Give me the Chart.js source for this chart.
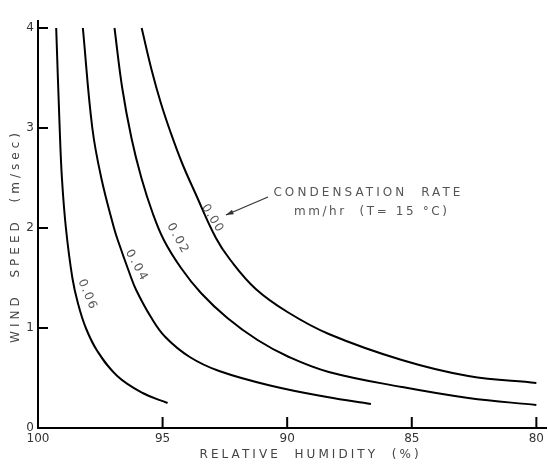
<!DOCTYPE html>
<html><head><meta charset="utf-8">
<script src="https://cdn.jsdelivr.net/npm/chart.js@4.4.1/dist/chart.umd.min.js"></script>
<style>html,body{margin:0;padding:0;background:#fff}#wrap{width:548px;height:464px;position:relative}</style>
</head><body><div id="wrap"><canvas id="c"></canvas></div>
<script>
// Condensation-rate curves (mm/hr): relative humidity (%) vs wind speed (m/sec)
const rateLabels = ['0.00', '0.02', '0.04', '0.06'];

const rh000 = [95.84, 95.44, 95.07, 94.67, 94.22, 93.69, 92.86, 92.28, 91.26, 89.99, 88.33, 85.4, 82.73, 80.0];
const ws000 = [4.0, 3.58, 3.25, 2.95, 2.65, 2.35, 1.90, 1.68, 1.39, 1.16, 0.94, 0.68, 0.52, 0.45];

const rh002 = [96.93, 96.62, 96.25, 95.85, 95.4, 94.95, 94.26, 93.46, 92.4, 91.19, 89.93, 88.33, 85.4, 82.73, 80.0];
const ws002 = [4.0, 3.4, 2.9, 2.5, 2.15, 1.88, 1.6, 1.35, 1.1, 0.88, 0.71, 0.56, 0.41, 0.30, 0.23];

const rh004 = [98.2, 97.82, 97.46, 96.95, 96.8, 96.33, 96.06, 95.47, 94.89, 93.91, 92.73, 90.6, 88.4, 86.64];
const ws004 = [4.0, 3.0, 2.5, 2.0, 1.88, 1.55, 1.38, 1.11, 0.91, 0.71, 0.57, 0.42, 0.31, 0.24];

const rh006 = [99.27, 99.13, 99.04, 98.88, 98.62, 98.4, 98.08, 97.62, 96.82, 95.8, 94.8];
const ws006 = [4.0, 3.0, 2.5, 2.0, 1.5, 1.25, 1.0, 0.77, 0.52, 0.35, 0.25];

const xTicks = [100, 95, 90, 85, 80];
const yTicks = [0, 1, 2, 3, 4];
const xTitle = 'RELATIVE  HUMIDITY  (%)';
const yTitle = 'WIND  SPEED  (m/sec)';
const noteLines = ['CONDENSATION  RATE', 'mm/hr  (T= 15 °C)'];

const series = [[rh000, ws000], [rh002, ws002], [rh004, ws004], [rh006, ws006]];
const FONT = '"DejaVu Sans", "Noto Sans", sans-serif';

function pts(rh, ws) { return rh.map((x, i) => ({ x: x, y: ws[i] })); }

function spaced(ctx, text, x, y, target) {
  ctx.letterSpacing = '0px';
  const w = ctx.measureText(text).width;
  const sp = Math.max(0, (target - w) / Math.max(1, text.length - 1));
  ctx.letterSpacing = sp.toFixed(2) + 'px';
  ctx.fillText(text, x + sp / 2, y);
  ctx.letterSpacing = '0px';
}

const decor = {
  id: 'decor',
  afterDatasetsDraw(chart, args, opts) {
    const ctx = chart.ctx, a = chart.chartArea, xs = chart.scales.x, ys = chart.scales.y;
    ctx.save();
    // inward tick marks
    ctx.strokeStyle = '#000';
    ctx.lineWidth = 2;
    xTicks.forEach(v => {
      if (v === 100) return;
      const px = xs.getPixelForValue(v);
      ctx.beginPath(); ctx.moveTo(px, a.bottom); ctx.lineTo(px, a.bottom - 11); ctx.stroke();
    });
    yTicks.forEach(v => {
      if (v === 0) return;
      const py = ys.getPixelForValue(v);
      ctx.beginPath(); ctx.moveTo(a.left, py); ctx.lineTo(a.left + 10, py); ctx.stroke();
    });

    // curve labels
    ctx.fillStyle = '#555';
    ctx.font = '12px ' + FONT;
    ctx.textAlign = 'center';
    ctx.textBaseline = 'middle';
    opts.labels.forEach((l, i) => {
      const px = xs.getPixelForValue(l.rh), py = ys.getPixelForValue(l.ws);
      ctx.save();
      ctx.translate(px, py);
      ctx.rotate(l.ang * Math.PI / 180);
      spaced(ctx, rateLabels[i], 0, 0, l.len);
      ctx.restore();
    });

    // annotation
    ctx.font = '12px ' + FONT;
    ctx.fillStyle = '#555';
    opts.note.forEach(n => {
      spaced(ctx, noteLines[n.line], xs.getPixelForValue(n.rh), ys.getPixelForValue(n.ws), n.len);
    });
    const ax0 = xs.getPixelForValue(opts.arrow.from[0]), ay0 = ys.getPixelForValue(opts.arrow.from[1]);
    const ax1 = xs.getPixelForValue(opts.arrow.to[0]), ay1 = ys.getPixelForValue(opts.arrow.to[1]);
    ctx.strokeStyle = '#333'; ctx.lineWidth = 1.2;
    ctx.beginPath(); ctx.moveTo(ax0, ay0); ctx.lineTo(ax1, ay1); ctx.stroke();
    const ang = Math.atan2(ay1 - ay0, ax1 - ax0);
    ctx.fillStyle = '#333';
    ctx.beginPath();
    ctx.moveTo(ax1, ay1);
    ctx.lineTo(ax1 - 8 * Math.cos(ang - 0.3), ay1 - 8 * Math.sin(ang - 0.3));
    ctx.lineTo(ax1 - 8 * Math.cos(ang + 0.3), ay1 - 8 * Math.sin(ang + 0.3));
    ctx.closePath(); ctx.fill();

    // axis titles
    ctx.fillStyle = '#444';
    ctx.font = '12px ' + FONT;
    spaced(ctx, xTitle, xs.getPixelForValue(opts.xTitleAt), a.bottom + 27, 219);
    ctx.save();
    ctx.translate(a.left - 22, ys.getPixelForValue(opts.yTitleAt));
    ctx.rotate(-Math.PI / 2);
    spaced(ctx, yTitle, 0, 0, 210);
    ctx.restore();

    ctx.restore();
  }
};

new Chart(document.getElementById('c'), {
  type: 'scatter',
  data: {
    datasets: series.map((s, i) => ({
      label: rateLabels[i],
      data: pts(s[0], s[1]),
      showLine: true,
      borderColor: '#000',
      borderWidth: 2,
      pointRadius: 0,
      tension: 0.4,
      fill: false
    }))
  },
  options: {
    responsive: true,
    maintainAspectRatio: false,
    animation: false,
    layout: { padding: { top: 21, right: 0, left: 0, bottom: 0 } },
    plugins: {
      legend: { display: false },
      tooltip: { enabled: false },
      decor: {
        labels: [
          { rh: 93.01, ws: 2.10, ang: 58, len: 30 },
          { rh: 94.40, ws: 1.90, ang: 61, len: 32 },
          { rh: 96.06, ws: 1.63, ang: 61, len: 33 },
          { rh: 98.03, ws: 1.34, ang: 67, len: 31 }
        ],
        note: [
          { line: 0, rh: 86.8, ws: 2.35, len: 187 },
          { line: 1, rh: 86.66, ws: 2.165, len: 153 }
        ],
        arrow: { from: [90.77, 2.31], to: [92.46, 2.13] },
        xTitleAt: 89.12,
        yTitleAt: 1.9
      }
    },
    scales: {
      x: {
        type: 'linear',
        reverse: true,
        min: 79.6,
        max: 100,
        afterBuildTicks: s => { s.ticks = xTicks.map(v => ({ value: v })); },
        afterFit: s => { s.height = 36; },
        grid: { display: false, drawTicks: false },
        border: { display: true, color: '#000', width: 2 },
        ticks: { color: '#333', font: { family: FONT, size: 12 }, padding: 4, maxRotation: 0, autoSkip: false },
        title: { display: false }
      },
      y: {
        type: 'linear',
        min: 0,
        max: 4.07,
        afterBuildTicks: s => { s.ticks = yTicks.map(v => ({ value: v })); },
        afterFit: s => { s.width = 38; },
        grid: { display: false, drawTicks: false },
        border: { display: true, color: '#000', width: 2 },
        ticks: { color: '#333', font: { family: FONT, size: 12 }, padding: 4, autoSkip: false },
        title: { display: false }
      }
    }
  },
  plugins: [decor]
});
</script>
</body></html>
